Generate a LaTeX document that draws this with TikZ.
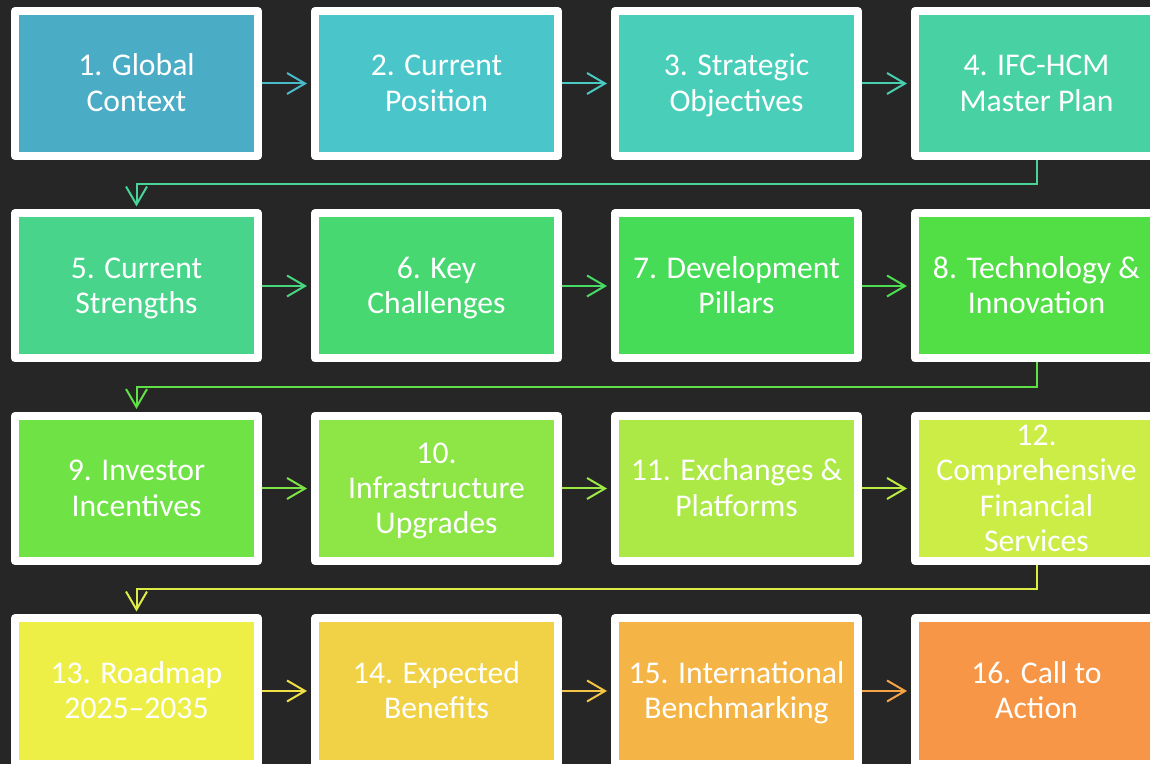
\documentclass[tikz,border=0pt]{standalone}
\usepackage{fontspec}
\setmainfont{Carlito}
\usetikzlibrary{arrows.meta}

% stage colours, blue-teal through green and yellow to orange
\definecolor{bgdark}{HTML}{262626}
\definecolor{c1}{HTML}{4BACC6}
\definecolor{c2}{HTML}{4AC6CA}
\definecolor{c3}{HTML}{49CEB9}
\definecolor{c4}{HTML}{48D1A3}
\definecolor{c5}{HTML}{48D58B}
\definecolor{c6}{HTML}{47D872}
\definecolor{c7}{HTML}{47DC57}
\definecolor{c8}{HTML}{52DF46}
\definecolor{c9}{HTML}{6FE246}
\definecolor{c10}{HTML}{8DE546}
\definecolor{c11}{HTML}{ACE946}
\definecolor{c12}{HTML}{CCEC46}
\definecolor{c13}{HTML}{EEEF46}
\definecolor{c14}{HTML}{F1D246}
\definecolor{c15}{HTML}{F4B546}
\definecolor{c16}{HTML}{F79646}

\tikzset{
    stagebox/.style={draw=white, line width=0.16cm, line join=round,
        minimum width=4.86cm, minimum height=2.9cm, inner sep=0pt,
        align=center, text=white, font=\fontsize{18}{20}\selectfont},
    flowarrow/.style={line width=0.04cm,
        -{Straight Barb[length=0.36cm, width=0.42cm]}}
}

\begin{document}
\begin{tikzpicture}
    % Dark slide background
    \clip (0,0) rectangle (23,-15.28);
    \fill[bgdark] (0,0) rectangle (23,-15.28);
    
    % Stage boxes, four per row
    \foreach \n/\txt [count=\i from 0] in {
        1/{1. Global\\Context},
        2/{2. Current\\Position},
        3/{3. Strategic\\Objectives},
        4/{4. IFC-HCM\\Master Plan},
        5/{5. Current\\Strengths},
        6/{6. Key\\Challenges},
        7/{7. Development\\Pillars},
        8/{8. Technology \&\\Innovation},
        9/{9. Investor\\Incentives},
        10/{10.\\Infrastructure\\Upgrades},
        11/{11. Exchanges \&\\Platforms},
        12/{12.\\Comprehensive\\Financial\\Services},
        13/{13. Roadmap\\2025--2035},
        14/{14. Expected\\Benefits},
        15/{15. International\\Benchmarking},
        16/{16. Call to\\Action}} {
        \node[stagebox, fill=c\n] (b\n)
            at ({2.73+6*mod(\i,4)}, {-1.67-4.05*int(\i/4)})
            {\rule{0pt}{15.1pt}\txt\rule[-3.7pt]{0pt}{3.7pt}};
    }
    
    % Arrows along each row
    \foreach \a/\b in {1/2,2/3,3/4,5/6,6/7,7/8,9/10,10/11,11/12,13/14,14/15,15/16} {
        \draw[flowarrow, c\a!50!c\b, shorten >=0.08cm] (b\a.east) -- (b\b.west);
    }
    
    % Turn-down connectors to the next row
    \foreach \a/\b in {4/5,8/9,12/13} {
        \draw[flowarrow, c\a!50!c\b, shorten >=0.06cm]
            (b\a.south) -- ++(0,-0.49) -| (b\b.north);
    }
\end{tikzpicture}
\end{document}
